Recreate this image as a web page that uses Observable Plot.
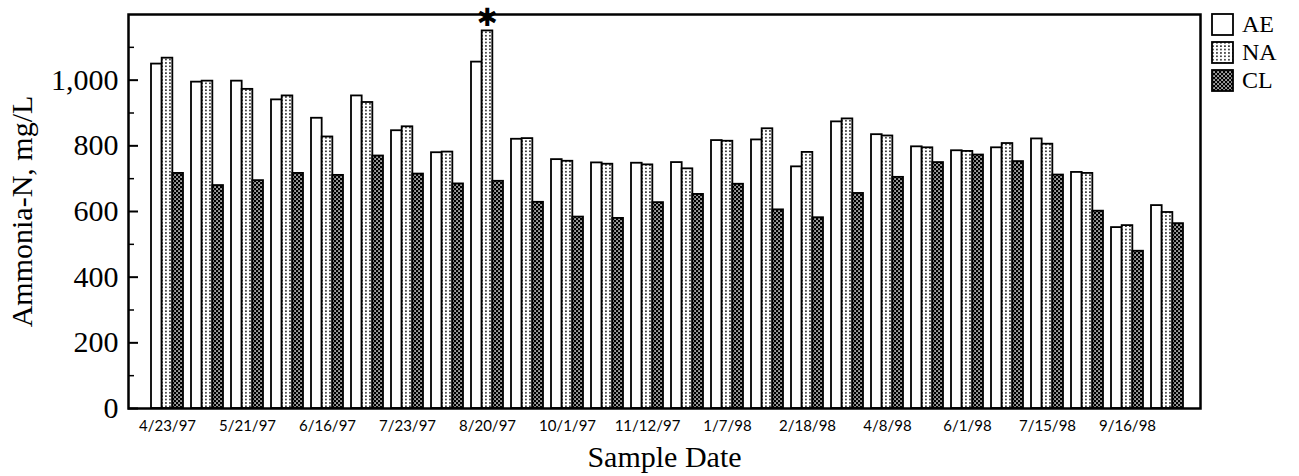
<!DOCTYPE html>
<html><head><meta charset="utf-8">
<script src="https://cdn.jsdelivr.net/npm/d3@7"></script>
<script src="https://cdn.jsdelivr.net/npm/@observablehq/plot@0.6"></script>
<style>
body{margin:0;background:#fff}
#wrap{position:relative;width:1299px;height:476px}
#legend{position:absolute;left:1211px;top:10px;font-family:"Liberation Serif";font-size:24px;color:#000}
#legend .row{display:flex;align-items:center;height:28px;line-height:28px}
#legend span{line-height:28px;display:block}
#legend svg{margin-right:8px;display:block}
g[aria-label="x-axis tick label"]{font-family:Lato;font-size:15px}
</style></head>
<body><div id="wrap"><div id="legend"></div></div>
<script>
// ---- data ----
const sampleDates = ["4/23/97","","5/21/97","","6/16/97","","7/23/97","","8/20/97","","10/1/97","","11/12/97","","1/7/98","","2/18/98","","4/8/98","","6/1/98","","7/15/98","","9/16/98",""];
const seriesNames = ["AE","NA","CL"];
const AE = [1049, 994, 997, 940, 884, 952, 846, 779, 1055, 820, 758, 748, 747, 749, 816, 818, 736, 873, 834, 797, 785, 794, 821, 719, 551, 618];
const NA = [1067, 997, 972, 952, 827, 932, 858, 781, 1150, 822, 753, 744, 742, 730, 814, 852, 780, 882, 830, 794, 783, 807, 805, 716, 557, 597];
const CL = [716, 679, 694, 716, 710, 769, 714, 684, 692, 628, 583, 579, 627, 652, 683, 605, 581, 655, 704, 749, 772, 752, 711, 601, 479, 563];
const yTickValues = [0, 200, 400, 600, 800, 1000];
const yMinorTickValues = [100, 300, 500, 700, 900, 1100];
const flaggedIndex = 8; // asterisk over NA

// ---- build ----
const seriesValues = [AE, NA, CL];
const fills = ["#fff", "url(#pNA)", "url(#pCL)"];
const groups = d3.range(sampleDates.length);
const rows = seriesNames.flatMap((s, k) => seriesValues[k].map((v, i) => ({g: i, s, v})));
const W = 1299, H = 476, mL = 128, mR = 99, mT = 14, mB = 68;
const plotW = W - mL - mR;
const padIn = 0.211, padOut = 0.32;
const step = plotW / (groups.length - padIn + 2 * padOut);
const barW = step * (1 - padIn) / 3;
const fmt = d3.format(",");

const chart = Plot.plot({
  width: W, height: H,
  marginLeft: mL, marginRight: mR, marginTop: mT, marginBottom: mB,
  style: {fontFamily: "Liberation Serif", fontSize: "30px", background: "#fff", color: "#000"},
  x: {type: "band", domain: groups, paddingInner: padIn, paddingOuter: padOut, align: 0.577,
      ticks: groups.filter(i => sampleDates[i]), tickFormat: i => sampleDates[i],
      tickSize: 0, tickPadding: 12, label: "Sample Date", labelAnchor: "center", labelOffset: 58, labelArrow: "none"},
  y: {domain: [0, 1200], ticks: yTickValues, tickFormat: d => fmt(d), tickSize: 0, tickPadding: 10,
      label: "Ammonia-N, mg/L", labelAnchor: "center", labelOffset: 118, labelArrow: "none"},
  marks: [
    ...seriesNames.map((s, k) => Plot.barY(rows.filter(d => d.s === s), {
      x: "g", y: "v", fill: fills[k], stroke: "#000", strokeWidth: 1.8,
      insetLeft: k * barW, insetRight: (2 - k) * barW
    })),
    Plot.tickY(yTickValues, {y: d => d, insetRight: plotW - 10, strokeWidth: 2}),
    Plot.tickY(yMinorTickValues, {y: d => d, insetRight: plotW - 6, strokeWidth: 1.5}),
    Plot.frame({strokeWidth: 2.5}),
    Plot.text([{g: flaggedIndex, v: NA[flaggedIndex]}], {
      x: "g", y: "v", text: () => "\u2731", fontSize: 25,
      fontFamily: "DejaVu Sans", lineAnchor: "middle", dy: -13
    })
  ]
});

d3.select(chart).insert("defs", ":first-child").html(`
  <pattern id="pNA" width="4" height="3.4" patternUnits="userSpaceOnUse">
    <rect width="4" height="3.4" fill="#fff"/><rect x="1.2" y="1" width="1.5" height="1.5" fill="#000"/>
  </pattern>
  <pattern id="pCL" width="4" height="4" patternUnits="userSpaceOnUse">
    <rect width="4" height="4" fill="#000"/><rect x="0.3" y="0.3" width="1.5" height="1.5" fill="#fff"/><rect x="2.3" y="2.3" width="1.5" height="1.5" fill="#fff"/>
  </pattern>`);
document.getElementById("wrap").prepend(chart);

const legend = d3.select("#legend");
seriesNames.forEach((s, k) => {
  const row = legend.append("div").attr("class", "row");
  const sw = row.append("svg").attr("width", 23).attr("height", 23);
  sw.append("rect").attr("x", 1).attr("y", 1).attr("width", 21).attr("height", 21)
    .attr("fill", fills[k]).attr("stroke", "#000").attr("stroke-width", 1.8);
  row.append("span").text(s);
});
</script>
</body></html>
